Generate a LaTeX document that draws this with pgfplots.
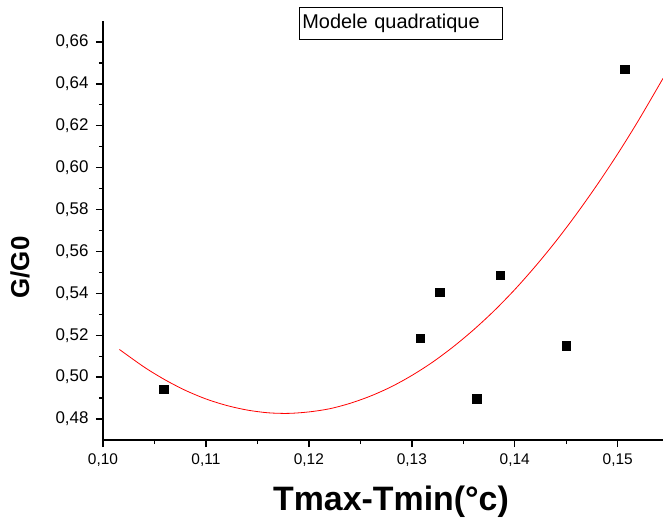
\documentclass[border=0pt]{standalone}
\usepackage{pgfplots}
\pgfplotsset{compat=1.18}
\usepackage{fontspec}
\setmainfont{Liberation Sans}
\begin{document}
\begin{tikzpicture}
\begin{axis}[
  width=560bp, height=419bp, scale only axis,
  xmin=0.10, xmax=0.1544, ymin=0.47, ymax=0.67,
  axis x line*=bottom, axis y line*=left,
  axis line style={line width=1.6bp, black},
  xtick={0.10,0.11,0.12,0.13,0.14,0.15},
  ytick={0.48,0.50,0.52,0.54,0.56,0.58,0.60,0.62,0.64,0.66},
  minor tick num=1,
  tick align=outside,
  major tick length=7bp, minor tick length=4bp,
  tick style={line width=1.4bp, black},
  /pgf/number format/assume math mode=true,
  /pgf/number format/.cd, fixed, fixed zerofill, precision=2, use comma, /pgfplots/.cd,
  yticklabel style={font=\fontsize{17}{17}\selectfont, xshift=-4bp},
  xticklabel style={font=\fontsize{15.5}{15.5}\selectfont, yshift=-3bp},
  xlabel={Tmax-Tmin(°c)},
  ylabel={G/G0},
  every axis x label/.style={at={([xshift=8bp,yshift=-70bp]rel axis cs:0.5,0)}, anchor=base, font=\bfseries\fontsize{34}{34}\selectfont},
  every axis y label/.style={at={([xshift=-83bp,yshift=-37bp]rel axis cs:0,0.5)}, anchor=center, rotate=90, font=\bfseries\fontsize{26}{26}\selectfont},
  clip=false,
]
\coordinate (sw) at (rel axis cs:0,0);
\coordinate (ne) at (rel axis cs:1,1);
\addplot[red, line width=0.8bp, smooth, no marks] coordinates {
(0.1016,0.5132) (0.104,0.5048) (0.106,0.4988) (0.108,0.4937) (0.110,0.4896)
(0.112,0.4865) (0.114,0.4843) (0.116,0.4830) (0.118,0.4827) (0.120,0.4834)
(0.122,0.4849) (0.124,0.4875) (0.126,0.4910) (0.128,0.4954) (0.130,0.5008)
(0.132,0.5071) (0.134,0.5144) (0.136,0.5226) (0.138,0.5317) (0.140,0.5418)
(0.142,0.5529) (0.144,0.5649) (0.146,0.5779) (0.148,0.5918) (0.150,0.6066)
(0.152,0.6224) (0.1544,0.6426)
};
\addplot[only marks, mark=square*, mark size=4.25bp, black] coordinates {
(0.1059,0.4943) (0.1308,0.5186) (0.1327,0.5405) (0.1363,0.4898)
(0.1386,0.5486) (0.1450,0.5149) (0.1507,0.6471)
};
\node[draw, line width=0.8bp, anchor=north west, inner sep=3bp, minimum width=203bp, minimum height=32bp, text width=197bp, align=left, font=\fontsize{20}{20}\selectfont] at ([xshift=196bp,yshift=14bp]rel axis cs:0,1) {Modele quadratique};
\end{axis}
\pgfresetboundingbox
\path ([xshift=-103bp,yshift=-79bp]sw) rectangle ([yshift=21bp]ne);
\end{tikzpicture}
\end{document}
